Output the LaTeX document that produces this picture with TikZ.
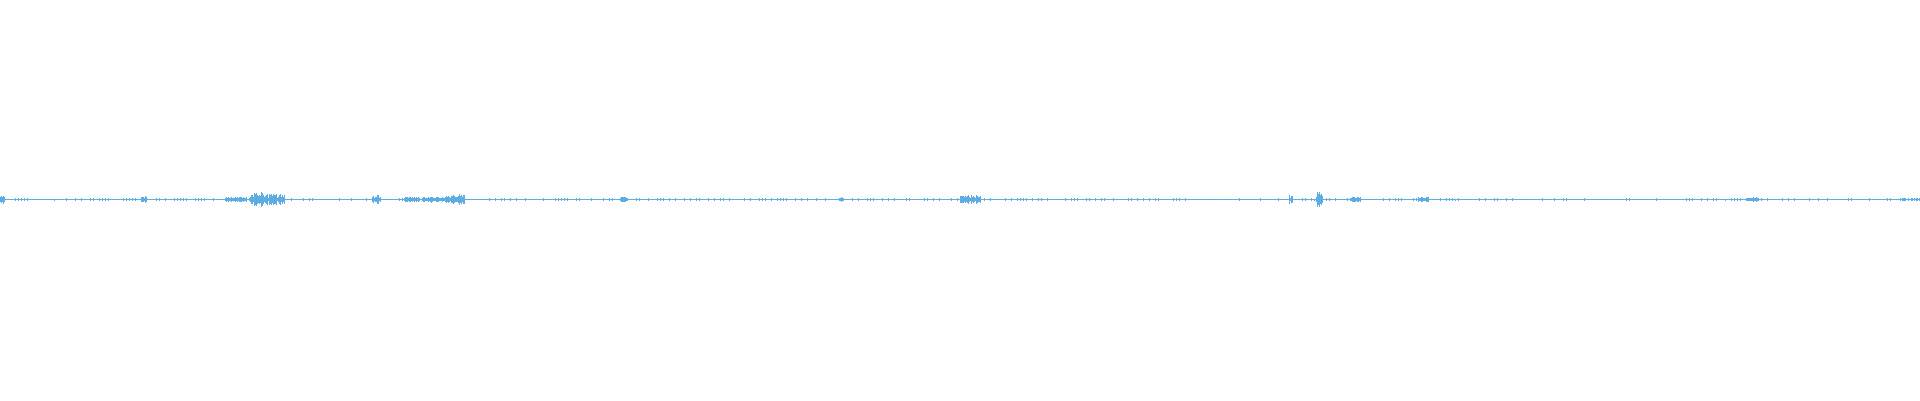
\documentclass[tikz,border=0pt]{standalone}
\definecolor{wave}{RGB}{93,173,226}
\begin{document}
\begin{tikzpicture}[x=0.02cm,y=-0.02cm,wv/.style={draw=wave,line width=0.02cm}]
\useasboundingbox[fill=white] (0,0) rectangle (1920,400);
\pgfmathsetseed{7}
\coordinate (L) at (0,199.5);
\coordinate (R) at (1920,199.5);
\draw[wv,line width=0.035cm] (L) -- (R);
% low noise
\foreach \x in {0,3,...,1917}{
  \pgfmathsetmacro\a{0.4+1.0*rnd}
  \draw[wv] (\x,199.5-\a) -- (\x,199.5+\a);
}
% bursts: start/end/amp
\foreach \s/\e/\m in {0/4/4, 141/146/4, 226/246/3, 250/262/8, 262/284/6, 372/380/5, 404/440/3, 440/452/3.5, 452/464/6, 620/626/3, 838/842/2.5, 960/980/5, 1289/1292/5, 1316/1322/8, 1350/1360/3, 1418/1428/3, 1746/1758/2.5, 1900/1920/1.5}{
  \foreach \x in {\s,...,\e}{
    \pgfmathsetmacro\a{\m*(0.3+0.7*rnd)}
    \draw[wv] (\x,199.5-\a) -- (\x,199.5+\a);
  }
}
\end{tikzpicture}
\end{document}
